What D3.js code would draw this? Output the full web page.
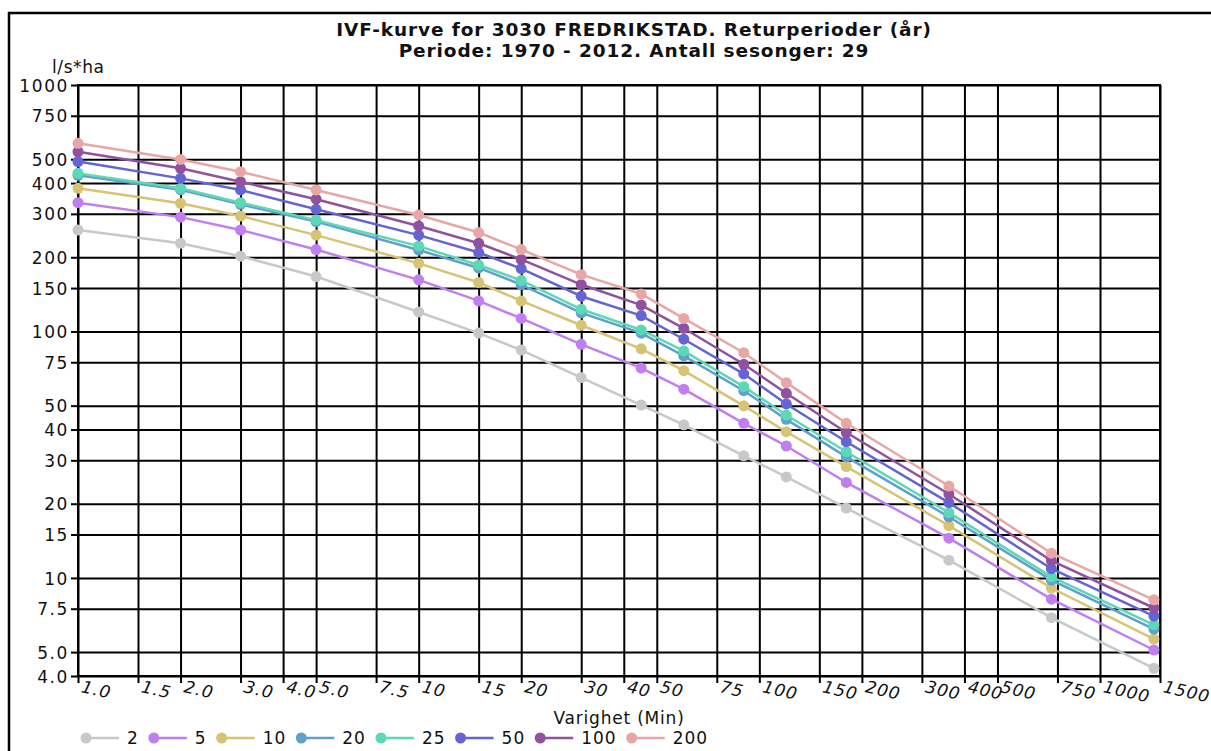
<!DOCTYPE html>
<html>
<head>
<meta charset="utf-8">
<script src="https://cdn.jsdelivr.net/npm/d3@7"></script>
<style>
  body { margin: 0; background: #fff; }
  svg text { font-family: "DejaVu Sans", sans-serif; fill: #111; }
</style>
</head>
<body>
<div id="chart"></div>
<script>
// durations (min) where the curves are sampled
const durations = [1, 2, 3, 5, 10, 15, 20, 30, 45, 60, 90, 120, 180, 360, 720, 1440];

// intensity (l/s*ha) per return period
const s2   = [258, 228, 202, 167, 120, 98.5, 84, 65, 50.3, 41.8, 31.3, 25.7, 19.2, 11.8, 6.9, 4.3];
const s5   = [333, 291, 258, 215, 162, 133, 113, 88.7, 71, 58.3, 42.4, 34.3, 24.4, 14.5, 8.2, 5.1];
const s10  = [381, 331, 294, 246, 189, 158, 133, 106, 85, 69.3, 49.9, 39.2, 28.3, 16.3, 9.1, 5.65];
const s20  = [430, 376, 328, 279, 214, 181, 155, 119, 98.4, 79.6, 57.5, 44, 31, 17.7, 9.8, 6.2];
const s25  = [438, 381, 333, 283, 222, 186, 161, 123, 101.4, 83.4, 59.7, 45.8, 32.5, 18.4, 10.1, 6.45];
const s50  = [489, 418, 375, 313, 246, 209, 180, 139, 116, 93, 67.3, 50.8, 35.7, 20.2, 10.9, 7.0];
const s100 = [536, 459, 405, 344, 268, 228, 196, 155, 128, 103, 73.6, 56.1, 38.9, 21.9, 11.75, 7.55];
const s200 = [580, 499, 445, 375, 297, 252, 215, 170, 142, 113, 82, 62, 42.4, 23.6, 12.6, 8.15];

const series_names = ["2", "5", "10", "20", "25", "50", "100", "200"];
const series_values = [s2, s5, s10, s20, s25, s50, s100, s200];
const series_colors = ["#c8c8c8", "#c07ef0", "#d6c374", "#5fa0cc", "#5cd8b6", "#6464d4", "#9052a0", "#e8a6a6"];

const y_ticks = [1000, 750, 500, 400, 300, 200, 150, 100, 75, 50, 40, 30, 20, 15, 10, 7.5, 5, 4];
const y_labels = ["1000", "750", "500", "400", "300", "200", "150", "100", "75", "50", "40", "30", "20", "15", "10", "7.5", "5.0", "4.0"];
const x_ticks = [1, 1.5, 2, 3, 4, 5, 7.5, 10, 15, 20, 30, 40, 50, 75, 100, 150, 200, 300, 400, 500, 750, 1000, 1500];
const x_labels = ["1.0", "1.5", "2.0", "3.0", "4.0", "5.0", "7.5", "10", "15", "20", "30", "40", "50", "75", "100", "150", "200", "300", "400", "500", "750", "1000", "1500"];

const title_lines = ["IVF-kurve for 3030 FREDRIKSTAD. Returperioder (år)", "Periode: 1970 - 2012. Antall sesonger: 29"];
const y_unit = "l/s*ha";
const x_title = "Varighet  (Min)";

let graph_config = {
  width: 1211,
  height: 751,
  margin: { left: 78, right: 51, top: 85, bottom: 75 }
};
let { width, height, margin } = graph_config;
let plot_w = width - margin.left - margin.right;
let plot_h = height - margin.top - margin.bottom;

let svg = d3.select("#chart").append("svg")
  .attr("width", width)
  .attr("height", height);

// outer frame
svg.append("rect")
  .attr("x", 9).attr("y", 13)
  .attr("width", 1260).attr("height", 800)
  .attr("fill", "none").attr("stroke", "#000").attr("stroke-width", 2.5);

svg.selectAll(".title")
  .data(title_lines)
  .enter().append("text")
  .attr("class", "title")
  .attr("x", 634)
  .attr("y", (d, i) => 36 + i * 21)
  .attr("text-anchor", "middle")
  .style("font-size", "18.5px")
  .style("font-weight", "bold")
  .style("letter-spacing", "0.9px")
  .text(d => d);

let g = svg.append("g")
  .attr("transform", "translate(" + margin.left + "," + margin.top + ")");

let x_scale = d3.scaleLog().domain([1, 1500]).range([0, plot_w]);
let y_scale = d3.scaleLog().domain([4, 1000]).range([plot_h, 0]);

// grid
let grid_y = g.append("g")
  .call(d3.axisLeft(y_scale).tickValues(y_ticks).tickSize(-plot_w).tickFormat(""));
let grid_x = g.append("g")
  .attr("transform", "translate(0," + plot_h + ")")
  .call(d3.axisBottom(x_scale).tickValues(x_ticks).tickSize(-plot_h).tickFormat(""));
[grid_y, grid_x].forEach(a => {
  a.select(".domain").remove();
  a.selectAll("line").attr("stroke", "#000").attr("stroke-width", 2);
});
g.append("rect")
  .attr("width", plot_w).attr("height", plot_h)
  .attr("fill", "none").attr("stroke", "#000").attr("stroke-width", 2);

// axes with labels
let y_axis = g.append("g")
  .call(d3.axisLeft(y_scale).tickValues(y_ticks).tickSize(7).tickPadding(2)
    .tickFormat((d, i) => y_labels[i]));
y_axis.select(".domain").remove();
y_axis.selectAll("line").attr("stroke", "#000").attr("stroke-width", 2);
y_axis.selectAll("text")
  .attr("font-size", null)
  .style("font-size", "17px").style("letter-spacing", "1.6px")
  .attr("dy", "0.36em")
  .attr("fill", "#111");

let x_axis = g.append("g")
  .attr("transform", "translate(0," + plot_h + ")")
  .call(d3.axisBottom(x_scale).tickValues(x_ticks).tickSize(7)
    .tickFormat((d, i) => x_labels[i]));
x_axis.select(".domain").remove();
x_axis.selectAll("line").attr("stroke", "#000").attr("stroke-width", 2);
x_axis.selectAll("text")
  .attr("text-anchor", "start")
  .attr("dy", null)
  .attr("y", 0)
  .attr("transform", "translate(2,16) rotate(13)")
  .style("font-size", "17px").style("font-style", "italic")
  .style("letter-spacing", "1px")
  .attr("fill", "#111");

svg.append("text")
  .attr("x", 52).attr("y", 73)
  .style("font-size", "17px").style("letter-spacing", "0.6px")
  .text(y_unit);

svg.append("text")
  .attr("x", margin.left + plot_w / 2).attr("y", 724)
  .attr("text-anchor", "middle")
  .style("font-size", "17px").style("letter-spacing", "0.8px")
  .text(x_title);

// curves
let series = series_names.map((name, i) => ({
  name,
  color: series_colors[i],
  points: durations.map((d, j) => ({ d, v: series_values[i][j] }))
}));

let line = d3.line().x(p => x_scale(p.d)).y(p => y_scale(p.v));
let curves = g.selectAll(".curve")
  .data(series)
  .enter().append("g")
  .attr("class", "curve");
curves.append("path")
  .attr("d", s => line(s.points))
  .attr("fill", "none")
  .attr("stroke", s => s.color)
  .attr("stroke-width", 2.5);
curves.selectAll("circle")
  .data(s => s.points.map(p => ({ ...p, color: s.color })))
  .enter().append("circle")
  .attr("cx", p => x_scale(p.d))
  .attr("cy", p => y_scale(p.v))
  .attr("r", 5.5)
  .attr("fill", p => p.color);

// legend
let legend = svg.append("g").attr("transform", "translate(0,738)");
let lx = 86;
series.forEach(s => {
  let item = legend.append("g").attr("transform", "translate(" + lx + ",0)");
  item.append("line")
    .attr("x1", 0).attr("x2", 33)
    .attr("stroke", s.color).attr("stroke-width", 2.5);
  item.append("circle").attr("r", 5.5).attr("fill", s.color);
  let t = item.append("text")
    .attr("x", 41).attr("y", 6)
    .style("font-size", "17px").style("letter-spacing", "1px")
    .text(s.name);
  lx += 41 + t.node().getComputedTextLength() + 15;
});
</script>
</body>
</html>
